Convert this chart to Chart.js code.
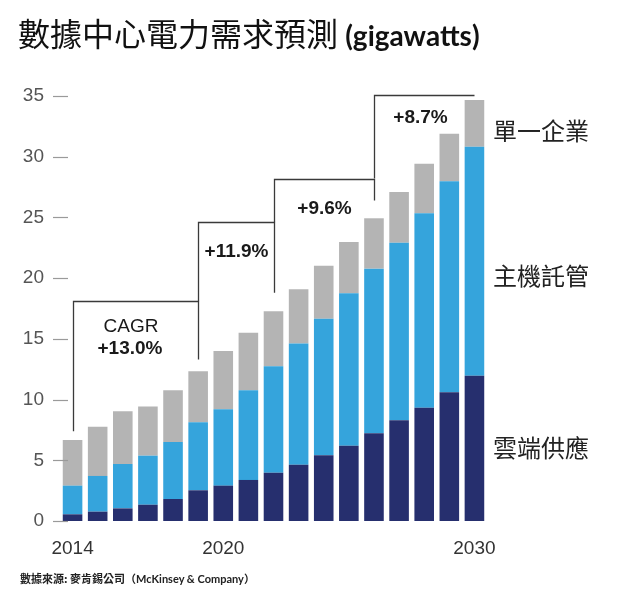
<!DOCTYPE html>
<html>
<head>
<meta charset="utf-8">
<script src="https://cdn.jsdelivr.net/npm/chart.js@4.4.1/dist/chart.umd.min.js"></script>
<style>
html,body{margin:0;padding:0;background:#fff;width:640px;height:591px;overflow:hidden;}
#wrap{position:absolute;left:0;top:0;width:640px;height:591px;}
#title{position:absolute;left:18px;top:12px;font-size:32px;line-height:40px;white-space:nowrap;color:#111;font-family:"Noto Sans CJK TC",sans-serif;}
#title .en{font-family:Lato,sans-serif;font-weight:bold;font-size:28px;}
.side{position:absolute;left:493px;font-family:"Noto Sans CJK TC",sans-serif;font-size:24px;line-height:30px;color:#222;white-space:nowrap;}
#src{position:absolute;left:20px;top:571px;font-size:11px;line-height:14px;font-weight:bold;color:#222;font-family:"Noto Sans CJK TC",sans-serif;white-space:nowrap;}
#src .en{font-family:Lato,sans-serif;}
</style>
</head>
<body>
<div id="wrap"><canvas id="c" width="640" height="591"></canvas></div>
<div id="title">數據中心電力需求預測 <span class="en">(gigawatts)</span></div>
<div class="side" id="s3" style="top:115px">單一企業</div>
<div class="side" id="s2" style="top:260px">主機託管</div>
<div class="side" id="s1" style="top:432px">雲端供應</div>
<div id="src">數據來源: 麥肯錫公司（<span class="en">McKinsey &amp; Company</span>）</div>
<script>
const years = ['2014','2015','2016','2017','2018','2019','2020','2021','2022','2023','2024','2025','2026','2027','2028','2029','2030'];
const shownYears = ['2014','2020','2030'];
const yTicks = [0,5,10,15,20,25,30,35];
const seriesNames = ['雲端供應','主機託管','單一企業'];
const cloud = [0.55,0.77,1.04,1.34,1.81,2.53,2.91,3.38,3.98,4.64,5.41,6.20,7.22,8.29,9.33,10.60,11.97];
const colo = [2.36,2.94,3.66,4.04,4.70,5.60,6.29,7.39,8.77,9.98,11.25,12.56,13.56,14.63,16.02,17.38,18.86];
const enterprise = [3.76,4.06,4.34,4.05,4.26,4.21,4.80,4.74,4.53,4.46,4.37,4.22,4.15,4.18,4.08,3.92,3.85];
const cagrTexts = ['+13.0%','+11.9%','+9.6%','+8.7%'];
const cagrFrom = ['2014','2019','2022','2026'];
const cagrTo = ['2019','2022','2026','2030'];
const cagrLevel = [18.1,24.6,28.2,35.1];
const cagrDrop = [13.3,18.8,26.4,null];
const cagrStartBottom = 7.4;

const colors = ['#262f6e','#35a4dc','#b4b4b4'];

const yTickMarks = {
  id:'yTickMarks',
  afterDraw(chart){
    const ctx = chart.ctx, y = chart.scales.y, a = chart.chartArea;
    ctx.save();
    ctx.strokeStyle = '#9a9a9a';
    ctx.lineWidth = 1.2;
    yTicks.forEach(v => {
      const py = Math.round(y.getPixelForValue(v)) + 0.5;
      ctx.beginPath();
      ctx.moveTo(a.left - 7, py);
      ctx.lineTo(a.left + 8, py);
      ctx.stroke();
    });
    ctx.restore();
  },
  beforeDatasetsDraw(chart){ this.afterDraw && 0; }
};

const brackets = {
  id:'brackets',
  afterDatasetsDraw(chart){
    const ctx = chart.ctx, xs = chart.scales.x, ys = chart.scales.y;
    ctx.save();
    ctx.strokeStyle = '#3a3a3a';
    ctx.lineWidth = 1.3;
    ctx.fillStyle = '#1a1a1a';
    ctx.textAlign = 'center';
    ctx.textBaseline = 'middle';
    cagrTexts.forEach((t, k) => {
      const x0 = Math.round(xs.getPixelForValue(years.indexOf(cagrFrom[k]))) + 0.5;
      const x1 = Math.round(xs.getPixelForValue(years.indexOf(cagrTo[k]))) + 0.5;
      const yl = Math.round(ys.getPixelForValue(cagrLevel[k])) + 0.5;
      const yStart = ys.getPixelForValue(k === 0 ? cagrStartBottom : cagrLevel[k-1]);
      ctx.beginPath();
      ctx.moveTo(x0, yStart);
      ctx.lineTo(x0, yl);
      ctx.lineTo(x1, yl);
      if (cagrDrop[k] !== null) ctx.lineTo(x1, ys.getPixelForValue(cagrDrop[k]));
      ctx.stroke();
      const cx = (x0 + x1) / 2;
      if (k === 0) {
        ctx.font = '19px "Liberation Sans", Arial, sans-serif';
        ctx.fillText('CAGR', cx - 5, yl + 25);
        ctx.font = 'bold 19px "Liberation Sans", Arial, sans-serif';
        ctx.fillText(t, cx - 6, yl + 47);
      } else {
        ctx.font = 'bold 19px "Liberation Sans", Arial, sans-serif';
        ctx.fillText(t, cx + (k === 3 ? -4 : 0), yl + (k === 3 ? 22 : 29));
      }
    });
    ctx.restore();
  }
};

new Chart(document.getElementById('c'), {
  type:'bar',
  data:{
    labels: years,
    datasets:[
      {label:seriesNames[0], data:cloud, backgroundColor:colors[0]},
      {label:seriesNames[1], data:colo, backgroundColor:colors[1]},
      {label:seriesNames[2], data:enterprise, backgroundColor:colors[2]}
    ]
  },
  options:{
    responsive:false,
    animation:false,
    events:[],
    layout:{padding:{top:96,right:153,bottom:0,left:0}},
    datasets:{bar:{categoryPercentage:1, barPercentage:0.78, borderWidth:0}},
    plugins:{legend:{display:false}, tooltip:{enabled:false}, title:{display:false}},
    scales:{
      x:{
        stacked:true,
        grid:{display:false, drawTicks:false},
        border:{display:false},
        afterFit(s){ s.height = 70; },
        ticks:{
          autoSkip:false, maxRotation:0, padding:16,
          color:'#333',
          font:{family:'"Liberation Sans", Arial, sans-serif', size:19},
          callback(v){ const l = years[v]; return shownYears.includes(l) ? l : ''; }
        }
      },
      y:{
        stacked:true, min:0, max:35,
        grid:{display:false, drawTicks:false},
        border:{display:false},
        afterFit(s){ s.width = 60; },
        afterBuildTicks(s){ s.ticks = yTicks.map(v => ({value:v})); },
        ticks:{
          padding:16, color:'#555',
          font:{family:'"Liberation Sans", Arial, sans-serif', size:19}
        }
      }
    }
  },
  plugins:[yTickMarks, brackets]
});
</script>
</body>
</html>
